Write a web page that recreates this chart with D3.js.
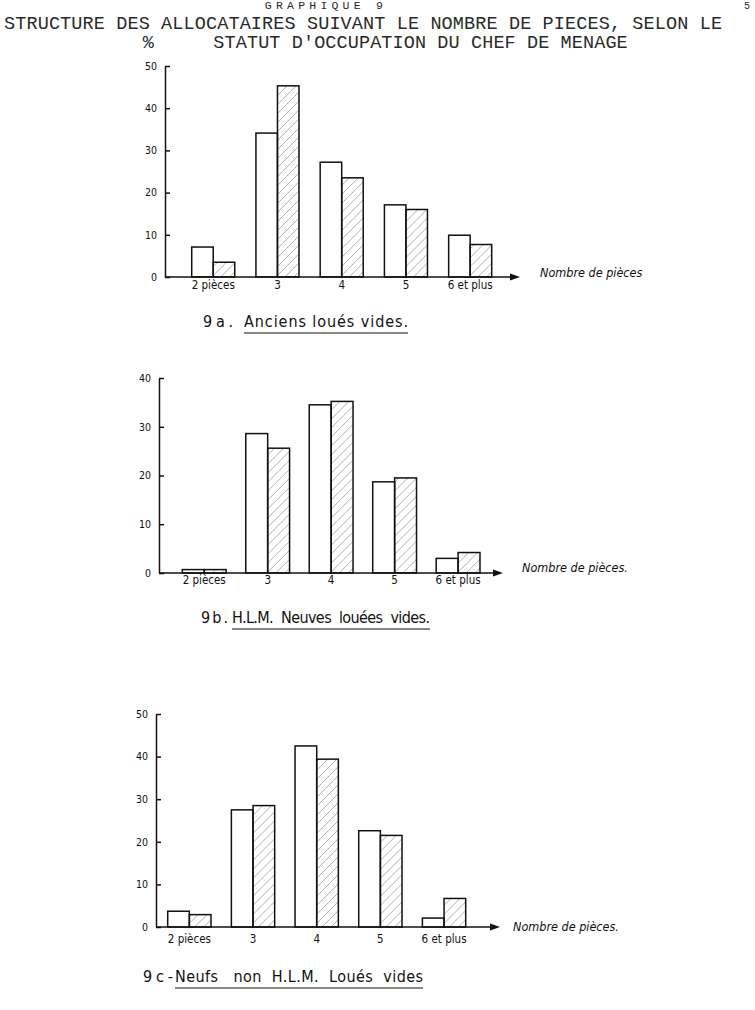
<!DOCTYPE html>
<html>
<head>
<meta charset="utf-8">
<script src="https://cdn.jsdelivr.net/npm/d3@7"></script>
<style>
  html, body { margin: 0; padding: 0; background: #fff; }
  svg { display: block; }
  .hand { font-family: "Liberation Sans Narrow", "DejaVu Sans Condensed", "Liberation Sans", sans-serif; fill: #111; }
  .type { font-family: "Liberation Mono", "DejaVu Sans Mono", monospace; fill: #2a2a2a; }
</style>
</head>
<body>
<svg id="chart" width="755" height="1010"></svg>
<script>
// ---------- DATA ----------
const categories = ["2 pièces", "3", "4", "5", "6 et plus"];

// 9a. Anciens loués vides
const anciensBlanc   = [7.1, 34.1, 27.2, 17.1, 9.9];
const anciensHachure = [3.5, 45.3, 23.5, 16.0, 7.7];

// 9b. H.L.M. Neuves louées vides
const hlmBlanc   = [0.7, 28.6, 34.5, 18.7, 3.0];
const hlmHachure = [0.7, 25.6, 35.2, 19.5, 4.2];

// 9c. Neufs non H.L.M. Loués vides
const neufsBlanc   = [3.7, 27.5, 42.5, 22.6, 2.1];
const neufsHachure = [2.9, 28.5, 39.4, 21.5, 6.7];

const ticks9a = [0, 10, 20, 30, 40, 50];
const ticks9b = [0, 10, 20, 30, 40];
const ticks9c = [0, 10, 20, 30, 40, 50];

const xAxisLabel = "Nombre de pièces";

// ---------- LAYOUT ----------
const svg = d3.select("#chart");

const defs = svg.append("defs");
const pat = defs.append("pattern")
  .attr("id", "hatch")
  .attr("patternUnits", "userSpaceOnUse")
  .attr("width", 9).attr("height", 9);
pat.append("path")
  .attr("d", "M-1,1 l2,-2 M0,9 l9,-9 M8,10 l2,-2")
  .attr("stroke", "#9a9a9a").attr("stroke-width", 0.8);

// Title (typewritten)
const charW = 11.2;
svg.append("text").attr("class", "type").attr("x", 5 + 23.2 * charW).attr("y", 9)
  .attr("font-size", 11.5).attr("textLength", 118).attr("lengthAdjust", "spacing")
  .attr("fill", "#888").text("GRAPHIQUE 9");
svg.append("text").attr("class", "type").attr("x", 744).attr("y", 9)
  .attr("font-size", 10).attr("fill", "#777").text("5");
svg.append("text").attr("class", "type").attr("x", 4).attr("y", 29)
  .attr("font-size", 18.5).attr("textLength", 718).attr("lengthAdjust", "spacing")
  .text("STRUCTURE DES ALLOCATAIRES SUIVANT LE NOMBRE DE PIECES, SELON LE");
svg.append("text").attr("class", "type").attr("x", 5 + 12.3 * charW).attr("y", 48)
  .attr("font-size", 18.5).text("%");
svg.append("text").attr("class", "type").attr("x", 5 + 18.6 * charW).attr("y", 48)
  .attr("font-size", 18.5).attr("textLength", 37 * charW).attr("lengthAdjust", "spacing")
  .text("STATUT D'OCCUPATION DU CHEF DE MENAGE");

const panels = [
  { blanc: anciensBlanc, hach: anciensHachure, ticks: ticks9a,
    axisX: 165, top: 66, base: 277, left: 191.7, right: 491.7, padIn: 0.33,
    arrowEnd: 520, labPad: 4, xlab: xAxisLabel, xlabX: 540, xlabY: 277,
    sub: { pre: "9a.", preX: 203, preW: 30, main: "Anciens loués vides.", mainX: 244, mainW: 164, y: 327, ul: 333 } },
  { blanc: hlmBlanc, hach: hlmHachure, ticks: ticks9b,
    axisX: 159, top: 378, base: 573, left: 182.3, right: 480, padIn: 0.31,
    arrowEnd: 503, labPad: 3, xlab: xAxisLabel + ".", xlabX: 522, xlabY: 572,
    sub: { pre: "9b.", preX: 201, preW: 27, main: "H.L.M.  Neuves  louées  vides.", mainX: 232, mainW: 198, y: 623, ul: 629 } },
  { blanc: neufsBlanc, hach: neufsHachure, ticks: ticks9c,
    axisX: 156, top: 714, base: 927, left: 167.7, right: 465.7, padIn: 0.32,
    arrowEnd: 500, labPad: 8, xlab: xAxisLabel + ".", xlabX: 513, xlabY: 931,
    sub: { pre: "9c-", preX: 143, preW: 30, main: "Neufs   non  H.L.M.  Loués  vides", mainX: 175, mainW: 248, y: 982, ul: 988 } }
];

panels.forEach(p => {
  const g = svg.append("g");
  const yMax = d3.max(p.ticks);
  const y = d3.scaleLinear().domain([0, yMax]).range([p.base, p.top]);
  const x = d3.scaleBand().domain(categories).range([p.left, p.right])
    .paddingInner(p.padIn).paddingOuter(0);
  const xs = d3.scaleBand().domain(["blanc", "hach"]).range([0, x.bandwidth()]);

  // bars
  const rows = categories.map((c, i) => ({ c, blanc: p.blanc[i], hach: p.hach[i] }));
  const grp = g.selectAll("g.grp").data(rows).join("g")
    .attr("transform", d => `translate(${x(d.c)},0)`);
  grp.append("rect")
    .attr("x", xs("hach")).attr("width", xs.bandwidth())
    .attr("y", d => y(d.hach)).attr("height", d => y(0) - y(d.hach))
    .attr("fill", "url(#hatch)").attr("stroke", "#111").attr("stroke-width", 1.5);
  grp.append("rect")
    .attr("x", xs("blanc")).attr("width", xs.bandwidth())
    .attr("y", d => y(d.blanc)).attr("height", d => y(0) - y(d.blanc))
    .attr("fill", "none").attr("stroke", "#111").attr("stroke-width", 1.5);

  // y axis
  const ya = g.append("g").attr("transform", `translate(${p.axisX},0)`)
    .call(d3.axisLeft(y).tickValues(p.ticks).tickSizeInner(-5).tickSizeOuter(0).tickPadding(8));
  ya.select(".domain").attr("stroke", "#111").attr("stroke-width", 1.5);
  ya.selectAll(".tick line").attr("stroke", "#111").attr("stroke-width", 1.5);
  ya.selectAll(".tick text").attr("class", "hand").attr("font-size", 10.5)
    .attr("font-family", null);

  // x baseline with arrow
  g.append("line").attr("x1", p.axisX).attr("x2", p.arrowEnd - 6)
    .attr("y1", y(0)).attr("y2", y(0)).attr("stroke", "#111").attr("stroke-width", 1.5);
  g.append("path")
    .attr("d", `M${p.arrowEnd},${y(0)} l-10,-3.5 l0,7 z`).attr("fill", "#111");

  // category labels
  const xa = g.append("g").attr("transform", `translate(0,${y(0)})`)
    .call(d3.axisBottom(x).tickSize(0).tickPadding(p.labPad));
  xa.select(".domain").remove();
  xa.selectAll(".tick text").attr("class", "hand").attr("font-size", 11.5)
    .attr("font-family", null);

  // axis title
  g.append("text").attr("class", "hand").attr("x", p.xlabX).attr("y", p.xlabY)
    .attr("font-size", 12.5).attr("font-style", "italic").text(p.xlab);

  // subtitle
  const s = p.sub;
  g.append("text").attr("class", "hand").attr("x", s.preX).attr("y", s.y)
    .attr("font-size", 16).attr("textLength", s.preW).attr("lengthAdjust", "spacing").text(s.pre);
  g.append("text").attr("class", "hand").attr("x", s.mainX).attr("y", s.y)
    .attr("font-size", 16).attr("textLength", s.mainW).attr("lengthAdjust", "spacing")
    .attr("xml:space", "preserve").style("white-space", "pre").text(s.main);
  g.append("line").attr("x1", s.mainX).attr("x2", s.mainX + s.mainW)
    .attr("y1", s.ul).attr("y2", s.ul).attr("stroke", "#111").attr("stroke-width", 1.2);
});
</script>
</body>
</html>
